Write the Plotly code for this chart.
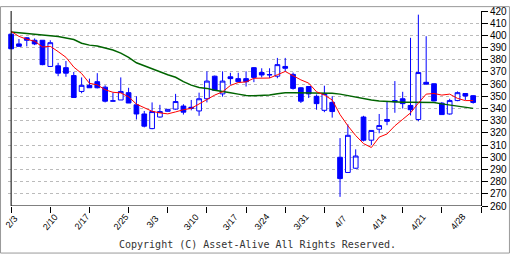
import plotly.graph_objects as go

# ---- data ----
opens = [401, 393, 398, 396, 396, 374.5, 375, 373.5, 367, 354,
         359, 362, 357.5, 346, 347, 353, 343, 335.5, 323.5, 333,
         337.7, 339.5, 342, 340, 338, 348, 366.5, 352, 366, 364.5,
         364.5, 373.5, 369.5, 367.5, 366.5, 374.5, 368, 357, 358, 350,
         338.5, 345, 300, 287.5, 291, 333, 314, 323, 331, 346.5,
         348, 342.5, 331, 361.5, 360.3, 344.4, 335.5, 346.5, 352.3, 350.5]
highs = [401.5, 397, 398.5, 397.5, 396, 396, 377.5, 379, 370, 365.5,
         364.5, 369, 359, 353, 365.5, 357, 350, 338, 345, 343,
         339.5, 352, 343.5, 347, 353, 370.5, 367, 370.5, 369.3, 369.3,
         370.5, 374, 373, 373, 381.5, 381.5, 369.5, 357.5, 358, 351.5,
         358.7, 350, 315.7, 327, 306.5, 334, 322, 335.5, 345.7, 362.5,
         353.7, 398, 417, 399.3, 360.5, 345.3, 348, 354, 352.5, 351]
lows = [388.8, 391, 391, 392, 375.5, 374, 366.5, 366, 349, 352.5,
        357, 356.5, 345, 345.7, 347, 344.5, 331, 324.5, 323, 332.5,
        337.5, 339, 335, 338.5, 334, 345, 354.5, 349.7, 359.7, 361.5,
        358, 361.6, 365.5, 365, 364.8, 370.4, 355.5, 344.5, 348.6, 339,
        337, 332.5, 267.5, 287.5, 290.5, 313, 310, 319.7, 326.3, 336.5,
        340, 334.3, 329.5, 359.7, 346, 335, 335, 346, 347, 344]
closes = [389, 391, 396, 393, 376, 394, 369, 369, 349, 359,
          357, 357, 346, 346.3, 354, 344.5, 335.5, 325.5, 337.5, 337.5,
          339.3, 345.7, 337, 341, 348, 362.5, 355, 362.5, 364.5, 362,
          362, 365.5, 367.5, 367.8, 376, 373, 356.5, 346, 352, 344,
          352.3, 337.5, 282.5, 318, 301, 314, 322, 326, 329.5, 345.5,
          344, 339, 369.5, 360, 346.2, 335, 346.5, 353, 350.2, 345]
ma_short = [403.2, 399.2, 396.8, 395.2, 390.5, 391, 386.7, 382, 374, 368.7,
            360.7, 359.4, 355.4, 353.3, 352.8, 349.6, 343.6, 340.9, 337.7, 336.4,
            335.6, 337.2, 339, 340.1, 343.6, 347, 351, 353.7, 358.9, 361.3,
            361.8, 364.8, 365, 365, 367.7, 370.4, 366.9, 363.5, 360.8, 353.7,
            351, 347, 335, 325.8, 317.8, 311.2, 308, 316.5, 319.1, 325.8,
            331.1, 336.4, 344.4, 351.8, 352.3, 351, 351.8, 348.3, 346.5, 346.5]
ma_long = [402.7, 402.1, 401.9, 400.8, 400.5, 399.7, 399, 397.9, 396.6, 393.6,
           392, 391.2, 389.9, 388, 385.4, 382, 377.5, 374.9, 372.2, 370.1,
           367.7, 365.6, 362.1, 359.2, 357.3, 356.5, 355, 353.7, 352.9, 351.8,
           350.6, 350.5, 350.5, 351, 352.1, 352.9, 352.9, 352.9, 352.9, 352.9,
           352.9, 352.6, 351.8, 350.5, 349.4, 348, 347, 346.2, 345.7, 345.7,
           345.2, 345.2, 344.9, 344.9, 344.9, 343.8, 343, 342.2, 341.2, 340.1]
# date labels sit on their trading-day index; tick marks are every 5 slots
date_labels = ["2/3", "2/10", "2/17", "2/25", "3/3", "3/10", "3/17",
               "3/24", "3/31", "4/7", "4/14", "4/21", "4/28"]
date_label_idx = [0, 5, 9, 14, 18, 23, 28, 32, 37, 42, 47, 52, 57]
tick_marks = [0, 5, 10, 15, 20, 25, 30, 35, 40, 45, 50, 55, 60]
y_ticks = [260, 270, 280, 290, 300, 310, 320, 330, 340, 350, 360,
           370, 380, 390, 400, 410, 420]
copyright_text = "Copyright (C) Asset-Alive All Rights Reserved."

# ---- layout geometry ----
W, H = 512, 256
ML, MR, MT, MB = 8, 30, 5, 50
PW, PH = W - ML - MR, H - MT - MB
XMIN, XMAX = -0.4, 60
YMIN, YMAX = 260, 420

def px2paper_x(p):
    return (p - ML) / PW

def py2paper_y(p):
    return (H - MB - p) / PH

xs = list(range(len(opens)))

fig = go.Figure()
fig.add_trace(go.Scatter(x=xs, y=ma_long, mode="lines",
                         line=dict(color="#006400", width=1.5),
                         hoverinfo="skip"))
fig.add_trace(go.Scatter(x=xs, y=ma_short, mode="lines",
                         line=dict(color="#ff0000", width=1),
                         hoverinfo="skip"))
fig.add_trace(go.Candlestick(
    x=xs, open=opens, high=highs, low=lows, close=closes,
    increasing=dict(line=dict(color="#0000ff", width=1), fillcolor="#ffffff"),
    decreasing=dict(line=dict(color="#0000ff", width=1), fillcolor="#0000ff"),
    whiskerwidth=0, hoverinfo="skip"))

shapes = [
    dict(type="line", xref="x", yref="y", x0=0, x1=0, y0=YMIN, y1=YMAX,
         line=dict(color="black", width=1)),
    dict(type="line", xref="x", yref="y", x0=0, x1=XMAX, y0=YMIN, y1=YMIN,
         line=dict(color="black", width=1)),
    dict(type="rect", xref="paper", yref="paper",
         x0=px2paper_x(0.5), x1=px2paper_x(510.5),
         y0=py2paper_y(254.5), y1=py2paper_y(0.5),
         line=dict(color="#999999", width=1)),
]

annotations = []
for pos, lab in zip(date_label_idx, date_labels):
    annotations.append(dict(
        x=pos, xref="x", y=py2paper_y(222), yref="paper",
        text=lab, showarrow=False, textangle=-50,
        xanchor="center", yanchor="middle",
        font=dict(family="Liberation Sans", size=9, color="black")))
annotations.append(dict(
    x=px2paper_x(258.5), xref="paper", y=py2paper_y(246), yref="paper",
    text=copyright_text, showarrow=False, xanchor="center", yanchor="middle",
    font=dict(family="DejaVu Sans Mono", size=10, color="#333333")))

fig.update_layout(
    width=W, height=H,
    margin=dict(l=ML, r=MR, t=MT, b=MB, pad=0),
    paper_bgcolor="white", plot_bgcolor="white",
    showlegend=False,
    boxgap=0.4, boxgroupgap=0,
    shapes=shapes, annotations=annotations,
    xaxis=dict(range=[XMIN, XMAX], tickvals=tick_marks, showticklabels=False,
               ticks="outside", ticklen=6, tickcolor="black", tickwidth=1,
               showgrid=False, showline=False, zeroline=False,
               rangeslider=dict(visible=False), fixedrange=True),
    yaxis=dict(range=[YMIN, YMAX], side="right", tickvals=y_ticks,
               ticktext=[str(v) for v in y_ticks], ticklabeloverflow="allow",
               ticks="outside", ticklen=6, tickcolor="black", tickwidth=1,
               showline=True, linecolor="black", linewidth=1,
               showgrid=True, gridcolor="#bbbbbb", griddash="3px,3px",
               gridwidth=1, zeroline=False, fixedrange=True,
               tickfont=dict(family="Liberation Sans", size=10, color="black")),
)

fig.write_html("out.html", config={"displayModeBar": False})
